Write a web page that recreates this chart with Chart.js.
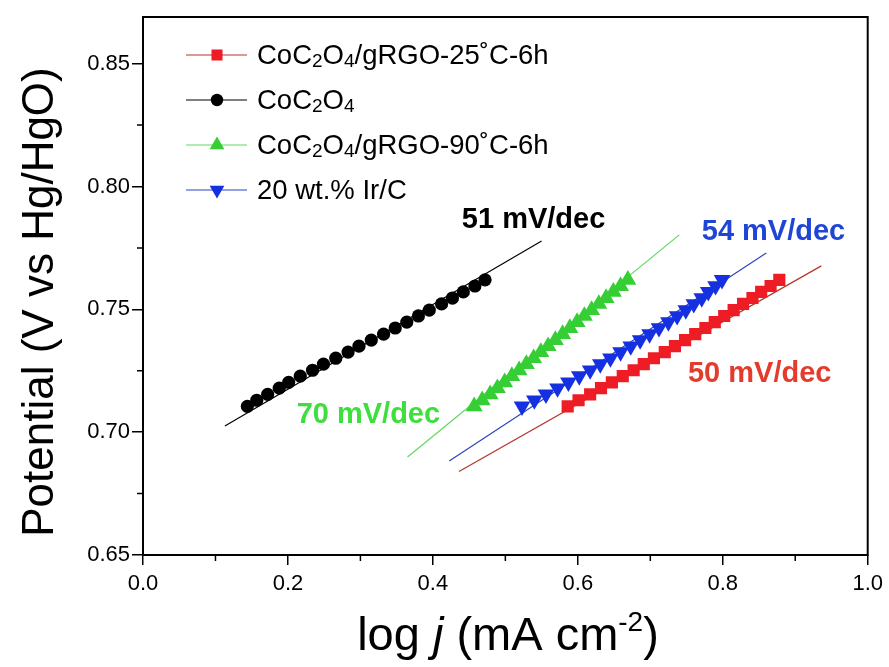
<!DOCTYPE html>
<html>
<head>
<meta charset="utf-8">
<script src="https://cdn.jsdelivr.net/npm/chart.js@4.4.1/dist/chart.umd.min.js"></script>
<style>
  html, body { margin: 0; padding: 0; background: #fff; }
</style>
</head>
<body>
<canvas id="c" width="889" height="667"></canvas>
<script>
  // potential steps (V vs Hg/HgO), shared by the four Tafel series
  var POTENTIAL = [0.7105, 0.7130, 0.7154, 0.7179, 0.7203, 0.7228, 0.7252, 0.7277, 0.7301, 0.7326, 0.7350,
                   0.7375, 0.7399, 0.7424, 0.7448, 0.7473, 0.7497, 0.7522, 0.7546, 0.7571, 0.7595, 0.7620];

  // log j for each series
  var LOGJ_RGO25 = [0.586, 0.601, 0.617, 0.632, 0.647, 0.662, 0.677, 0.691, 0.705, 0.720, 0.734,
                    0.748, 0.762, 0.776, 0.789, 0.802, 0.815, 0.828, 0.841, 0.853, 0.866, 0.878];
  var LOGJ_COC2O4 = [0.144, 0.157, 0.172, 0.188, 0.201, 0.217, 0.234, 0.249, 0.266, 0.283, 0.298,
                     0.315, 0.332, 0.348, 0.364, 0.380, 0.395, 0.412, 0.427, 0.442, 0.458, 0.472];
  var LOGJ_RGO90 = [0.457, 0.468, 0.479, 0.489, 0.499, 0.509, 0.519, 0.529, 0.539, 0.549, 0.559,
                    0.569, 0.579, 0.589, 0.599, 0.609, 0.619, 0.629, 0.639, 0.649, 0.659, 0.669];
  var LOGJ_IRC = [0.523, 0.540, 0.556, 0.572, 0.587, 0.602, 0.617, 0.631, 0.645, 0.659, 0.673,
                  0.686, 0.699, 0.712, 0.725, 0.737, 0.749, 0.760, 0.771, 0.780, 0.790, 0.799];

  // Tafel fit lines (end points)
  var FIT_X_RGO25 = [0.436, 0.936];   var FIT_Y_RGO25 = [0.6840, 0.7677];
  var FIT_X_COC2O4 = [0.113, 0.550];  var FIT_Y_COC2O4 = [0.7025, 0.7778];
  var FIT_X_RGO90 = [0.365, 0.740];   var FIT_Y_RGO90 = [0.6899, 0.7803];
  var FIT_X_IRC = [0.4225, 0.860];    var FIT_Y_IRC = [0.6883, 0.7729];

  var SERIES = ["CoC₂O₄/gRGO-25˚C-6h", "CoC₂O₄", "CoC₂O₄/gRGO-90˚C-6h", "20 wt.% Ir/C"];
  var SLOPES = ["50 mV/dec", "51 mV/dec", "70 mV/dec", "54 mV/dec"];
  // where the slope text sits (left edge x, baseline y in data units)
  var SLOPE_AT_X = [0.752, 0.440, 0.212, 0.771];
  var SLOPE_AT_Y = [0.7206, 0.7831, 0.7039, 0.7783];

  var X_TICKS = [0.0, 0.2, 0.4, 0.6, 0.8, 1.0];
  var X_MINOR = [0.1, 0.3, 0.5, 0.7, 0.9];
  var Y_TICKS = [0.65, 0.70, 0.75, 0.80, 0.85];
  var Y_MINOR = [0.675, 0.725, 0.775, 0.825];

  var FONT = 'Helvetica, "Liberation Sans", Arial, sans-serif';
  var MARK = ["#ee1c25", "#000000", "#35cf35", "#1530e0"];
  var LINE = ["#b5352c", "#000000", "#5fd85f", "#2c45c0"];
  var TEXT = ["#e53b2c", "#000000", "#3ddf3d", "#1f45d6"];
  var STYLE = ["rect", "circle", "triangle", "triangle"];
  var ROT = [0, 0, 0, 180];
  var RAD = [8.6, 6.6, 9.8, 9.6];
  var LEG_RAD = [7.8, 6.2, 8.5, 8.5];

  function pts(xs, ys) {
    return xs.map(function (x, i) {
      return { x: x, y: ys[i] };
    });
  }

  function marker(ctx, style, x, y, r, rot) {
    ctx.beginPath();
    if (style === "circle") {
      ctx.arc(x, y, r, 0, Math.PI * 2);
    } else if (style === "rect") {
      var s = r * Math.SQRT1_2;
      ctx.rect(x - s, y - s, 2 * s, 2 * s);
    } else {
      var d = rot === 180 ? -1 : 1;
      ctx.moveTo(x, y - d * r);
      ctx.lineTo(x + r * 0.866, y + d * r * 0.5);
      ctx.lineTo(x - r * 0.866, y + d * r * 0.5);
      ctx.closePath();
    }
    ctx.fill();
  }

  // text with the unicode sub digits drawn as real small lowered digits
  var SUB = { "₀": "0", "₁": "1", "₂": "2", "₃": "3", "₄": "4" };
  function richLabel(ctx, str, x, y, size) {
    var run = "";
    function flush(sub) {
      if (!run) return;
      ctx.font = (sub ? Math.round(size * 0.68) : size) + "px " + FONT;
      ctx.fillText(run, x, sub ? y + size * 0.2 : y);
      x += ctx.measureText(run).width;
      run = "";
    }
    var mode = false;
    for (var i = 0; i < str.length; i++) {
      var ch = str[i];
      var isSub = SUB.hasOwnProperty(ch);
      if (isSub !== mode) { flush(mode); mode = isSub; }
      run += isSub ? SUB[ch] : ch;
    }
    flush(mode);
  }

  var decor = {
    id: "decor",
    afterDraw: function (chart) {
      var ctx = chart.ctx, a = chart.chartArea;
      var sx = chart.scales.x, sy = chart.scales.y;
      ctx.save();

      // frame + minor ticks
      ctx.strokeStyle = "#000";
      ctx.lineWidth = 2;
      ctx.strokeRect(a.left, a.top, a.right - a.left, a.bottom - a.top);
      ctx.lineWidth = 1.5;
      ctx.beginPath();
      X_MINOR.forEach(function (v) {
        var p = sx.getPixelForValue(v);
        ctx.moveTo(p, a.bottom);
        ctx.lineTo(p, a.bottom + 6);
      });
      Y_MINOR.forEach(function (v) {
        var p = sy.getPixelForValue(v);
        ctx.moveTo(a.left, p);
        ctx.lineTo(a.left - 6, p);
      });
      ctx.stroke();

      // slope annotations
      ctx.textBaseline = "alphabetic";
      ctx.textAlign = "left";
      ctx.font = "bold 29px " + FONT;
      SLOPES.forEach(function (t, i) {
        ctx.fillStyle = TEXT[i];
        ctx.fillText(t, sx.getPixelForValue(SLOPE_AT_X[i]), sy.getPixelForValue(SLOPE_AT_Y[i]));
      });

      // legend
      SERIES.forEach(function (lab, i) {
        var yy = 55 + i * 45;
        ctx.strokeStyle = LINE[i];
        ctx.lineWidth = 1.2;
        ctx.beginPath();
        ctx.moveTo(186, yy);
        ctx.lineTo(247, yy);
        ctx.stroke();
        ctx.fillStyle = MARK[i];
        marker(ctx, STYLE[i], 217, yy, LEG_RAD[i], ROT[i]);
        ctx.fillStyle = "#000";
        ctx.textBaseline = "middle";
        richLabel(ctx, lab, 257, yy + 1, 27.5);
      });

      // axis titles
      ctx.fillStyle = "#000";
      ctx.textBaseline = "alphabetic";
      ctx.save();
      ctx.translate(53, 302);
      ctx.rotate(-Math.PI / 2);
      ctx.textAlign = "center";
      ctx.font = "44px " + FONT;
      ctx.fillText("Potential (V vs Hg/HgO)", 0, 0);
      ctx.restore();

      var parts = [
        { t: "log ", f: "47px " + FONT, dy: 0 },
        { t: "j", f: "italic 47px " + FONT, dy: 0 },
        { t: " (mA cm", f: "47px " + FONT, dy: 0 },
        { t: "-2", f: "28px " + FONT, dy: -19 },
        { t: ")", f: "47px " + FONT, dy: 0 }
      ];
      var total = 0;
      parts.forEach(function (p) {
        ctx.font = p.f;
        p.w = ctx.measureText(p.t).width;
        total += p.w;
      });
      var xx = 508 - total / 2;
      ctx.textAlign = "left";
      parts.forEach(function (p) {
        ctx.font = p.f;
        ctx.fillText(p.t, xx, 650 + p.dy);
        xx += p.w;
      });
      ctx.restore();
    }
  };

  var markData = [LOGJ_RGO25, LOGJ_COC2O4, LOGJ_RGO90, LOGJ_IRC];
  var fitX = [FIT_X_RGO25, FIT_X_COC2O4, FIT_X_RGO90, FIT_X_IRC];
  var fitY = [FIT_Y_RGO25, FIT_Y_COC2O4, FIT_Y_RGO90, FIT_Y_IRC];

  var datasets = [];
  SERIES.forEach(function (lab, i) {
    datasets.push({
      label: lab,
      data: pts(markData[i], POTENTIAL),
      showLine: false,
      pointStyle: STYLE[i],
      pointRotation: ROT[i],
      pointRadius: RAD[i],
      pointBackgroundColor: MARK[i],
      pointBorderColor: MARK[i],
      pointBorderWidth: 0
    });
  });
  SERIES.forEach(function (lab, i) {
    datasets.push({
      label: lab + " fit",
      data: pts(fitX[i], fitY[i]),
      showLine: true,
      borderColor: LINE[i],
      borderWidth: 1.2,
      pointRadius: 0
    });
  });

  new Chart(document.getElementById("c"), {
    type: "scatter",
    data: { datasets: datasets },
    options: {
      responsive: false,
      animation: false,
      devicePixelRatio: 1,
      layout: { padding: { top: 17, right: 20, left: 0, bottom: 0 } },
      plugins: { legend: { display: false }, tooltip: { enabled: false } },
      scales: {
        x: {
          type: "linear",
          min: 0,
          max: 1,
          afterBuildTicks: function (s) {
            s.ticks = X_TICKS.map(function (v) { return { value: v }; });
          },
          afterFit: function (s) { s.height = 112; },
          ticks: {
            color: "#000",
            padding: 6,
            font: { family: FONT, size: 22 },
            callback: function (v) { return Number(v).toFixed(1); }
          },
          grid: { drawOnChartArea: false, tickLength: 10, color: "#000", lineWidth: 1.5 },
          border: { display: false }
        },
        y: {
          type: "linear",
          min: 0.65,
          max: 0.869,
          afterBuildTicks: function (s) {
            s.ticks = Y_TICKS.map(function (v) { return { value: v }; });
          },
          afterFit: function (s) { s.width = 143; },
          ticks: {
            color: "#000",
            padding: 2,
            font: { family: FONT, size: 22 },
            callback: function (v) { return Number(v).toFixed(2); }
          },
          grid: { drawOnChartArea: false, tickLength: 11, color: "#000", lineWidth: 1.5 },
          border: { display: false }
        }
      }
    },
    plugins: [decor]
  });
</script>
</body>
</html>
